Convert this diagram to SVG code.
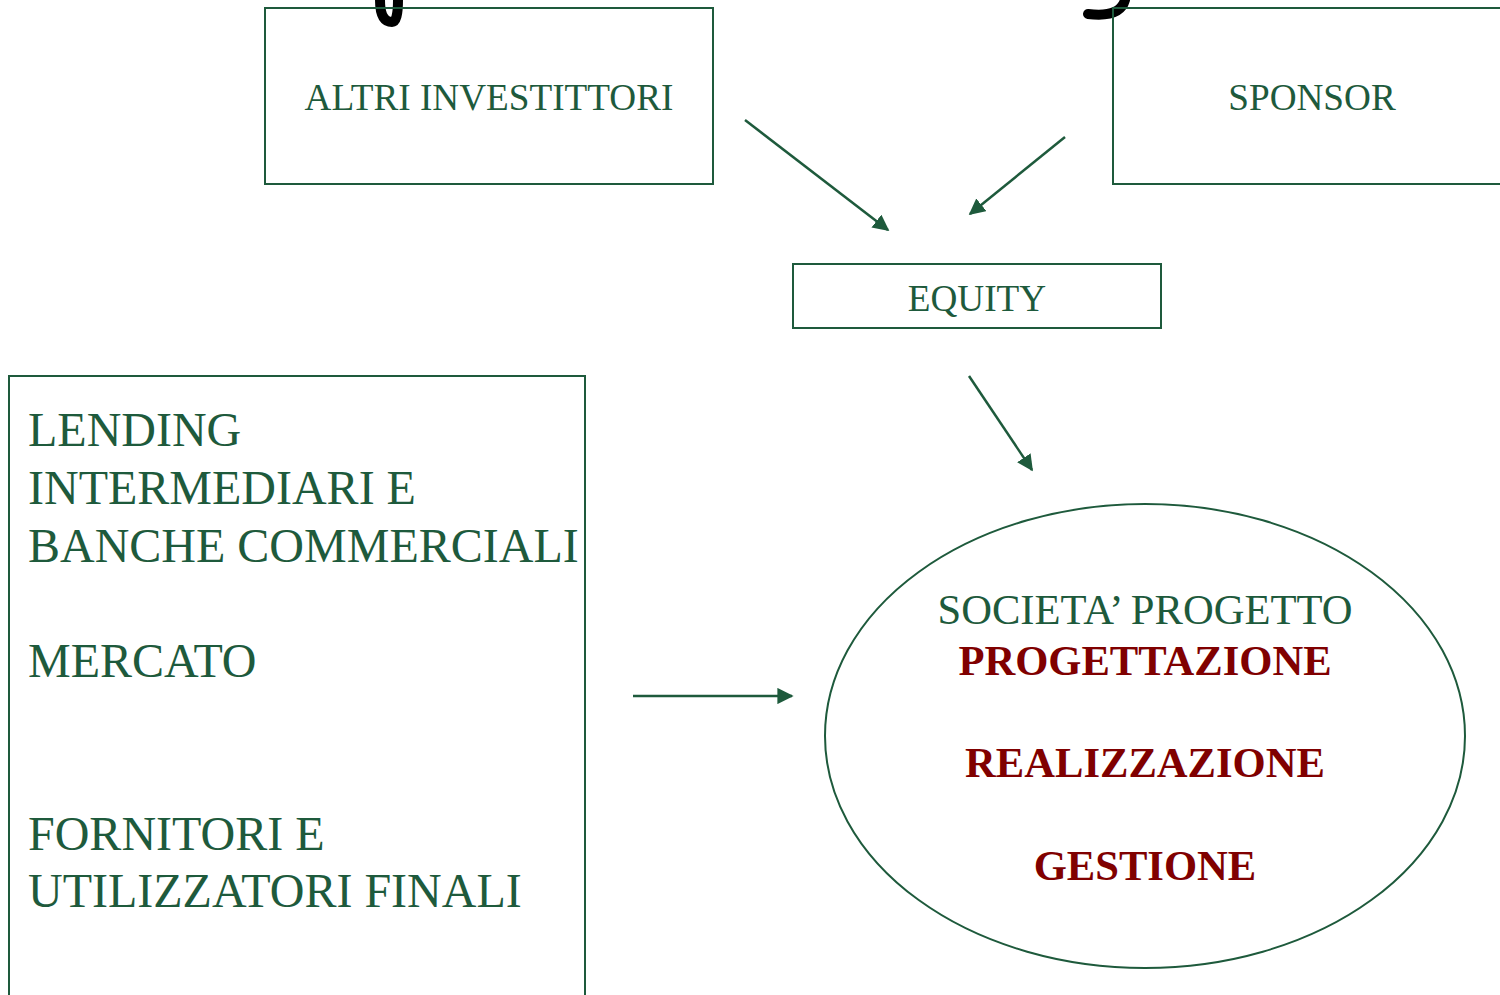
<svg xmlns="http://www.w3.org/2000/svg" width="1500" height="995" viewBox="0 0 1500 995">
<style>
.box{fill:none;stroke:#1e5a3c;stroke-width:2}
.conn{stroke:#1e5a3c;stroke-width:2.5;fill:none}
.t{font-family:"Liberation Serif","Times New Roman",serif;fill:#1e5a3c}
.r{font-family:"Liberation Serif","Times New Roman",serif;fill:#800000;font-weight:bold}
</style>
<defs>
<marker id="ah" viewBox="0 0 10 10" refX="9" refY="5" markerWidth="6.5" markerHeight="6.5" markerUnits="strokeWidth" orient="auto">
<path d="M0,0 L10,5 L0,10 z" fill="#1e5a3c"/>
</marker>
</defs>
<rect width="1500" height="995" fill="#ffffff"/>
<g id="fragments">
<path d="M380,0 Q380,22 392,22 Q398,22 398,0" fill="none" stroke="#000" stroke-width="10"/>
<path d="M1125,0 Q1120,18 1088,14" fill="none" stroke="#000" stroke-width="10" stroke-linecap="round"/>
</g>
<g id="altri">
<rect class="box" x="265" y="8" width="448" height="176"/>
<text class="t" x="489" y="110" font-size="37.2" text-anchor="middle">ALTRI INVESTITTORI</text>
</g>
<g id="sponsor">
<rect class="box" x="1113" y="8" width="400" height="176"/>
<text class="t" x="1312" y="110" font-size="37.2" text-anchor="middle">SPONSOR</text>
</g>
<g id="equity">
<rect class="box" x="793" y="264" width="368" height="64"/>
<text class="t" x="977" y="311" font-size="37.2" text-anchor="middle">EQUITY</text>
</g>
<g id="lending">
<rect class="box" x="9" y="376" width="576" height="640"/>
<text class="t" font-size="48"><tspan x="28" y="446">LENDING</tspan><tspan x="28" y="504">INTERMEDIARI E</tspan><tspan x="28" y="562">BANCHE COMMERCIALI</tspan><tspan x="28" y="677">MERCATO</tspan><tspan x="28" y="850">FORNITORI E</tspan><tspan x="28" y="907">UTILIZZATORI FINALI</tspan></text>
</g>
<g id="societa">
<ellipse class="box" cx="1145" cy="736" rx="320" ry="232"/>
<text class="t" x="1145" y="624" font-size="42.6" text-anchor="middle">SOCIETA’ PROGETTO</text>
<text class="r" x="1145" y="675" font-size="42.6" text-anchor="middle">PROGETTAZIONE</text>
<text class="r" x="1145" y="777" font-size="42.6" text-anchor="middle">REALIZZAZIONE</text>
<text class="r" x="1145" y="880" font-size="42.6" text-anchor="middle">GESTIONE</text>
</g>
<g id="connectors">
<line class="conn" x1="745" y1="120" x2="888" y2="230" marker-end="url(#ah)"/>
<line class="conn" x1="1065" y1="137" x2="970" y2="214" marker-end="url(#ah)"/>
<line class="conn" x1="969" y1="376" x2="1032" y2="470" marker-end="url(#ah)"/>
<line class="conn" x1="633" y1="696" x2="792" y2="696" marker-end="url(#ah)"/>
</g>
</svg>
